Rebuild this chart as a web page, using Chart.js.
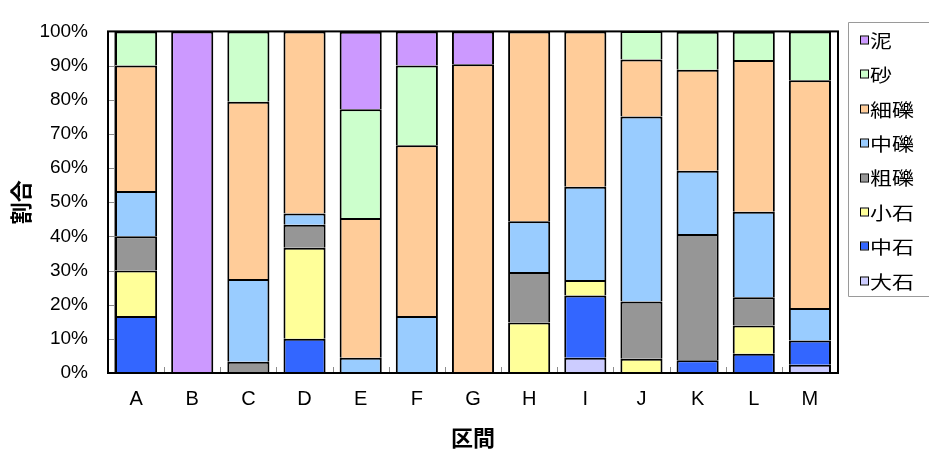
<!DOCTYPE html>
<html>
<head>
<meta charset="utf-8">
<script src="https://cdn.jsdelivr.net/npm/chart.js@4.4.1/dist/chart.umd.min.js"></script>
<style>
  html, body { margin: 0; padding: 0; background: #ffffff; }
  #wrap { width: 929px; height: 449px; }
</style>
</head>
<body>
<div id="wrap"><canvas id="chart" width="929" height="449"></canvas></div>
<script>
// 区間ごとの粒径構成（%）
const sections = ['A', 'B', 'C', 'D', 'E', 'F', 'G', 'H', 'I', 'J', 'K', 'L', 'M'];

const oishi   = [0,    0,   0,    0,    0,    0,    0,    0,    4.5,  0,    0,    0,    2.4];  // 大石
const chuseki = [16.7, 0,   0,    10.0, 0,    0,    0,    0,    18.2, 0,    3.7,  5.6,  7.1];  // 中石
const koishi  = [13.3, 0,   0,    26.7, 0,    0,    0,    14.8, 4.5,  4.2,  0,    8.3,  0];    // 小石
const soreki  = [10.0, 0,   3.3,  6.7,  0,    0,    0,    14.8, 0,    16.7, 37.0, 8.3,  0];    // 粗礫
const chureki = [13.3, 0,   24.2, 3.3,  4.5,  16.7, 0,    14.8, 27.3, 54.2, 18.5, 25.0, 9.5];  // 中礫
const saireki = [36.7, 0,   51.9, 53.3, 40.9, 50.0, 90.4, 55.6, 45.5, 16.7, 29.6, 44.4, 66.7]; // 細礫
const suna    = [10.0, 0,   20.6, 0,    31.8, 23.3, 0,    0,    0,    8.3,  11.1, 8.3,  14.3]; // 砂
const doro    = [0,    100, 0,    0,    22.7, 10.0, 9.6,  0,    0,    0,    0,    0,    0];    // 泥

const seriesNames  = ['大石', '中石', '小石', '粗礫', '中礫', '細礫', '砂', '泥'];
const seriesValues = [oishi, chuseki, koishi, soreki, chureki, saireki, suna, doro];
const seriesColors = ['#CCCCFF', '#3366FF', '#FFFF99', '#969696', '#99CCFF', '#FFCC99', '#CCFFCC', '#CC99FF'];

const yTickValues = [0, 10, 20, 30, 40, 50, 60, 70, 80, 90, 100];

const LATIN = '"Liberation Sans", Arial, sans-serif';
const CJK = '"Noto Sans CJK JP", "Noto Sans", sans-serif';

// 枠線・目盛り線・凡例
const framePlugin = {
  id: 'frame',
  afterDraw(chart) {
    const { ctx, chartArea: a, scales } = chart;
    const x = scales.x, y = scales.y;
    ctx.save();

    // 数値軸の線と内向きの目盛り
    ctx.strokeStyle = '#8c8c8c';
    ctx.lineWidth = 1;
    ctx.beginPath();
    ctx.moveTo(a.left + 6.5, a.top);
    ctx.lineTo(a.left + 6.5, a.bottom);
    yTickValues.forEach(v => {
      const py = Math.round(y.getPixelForValue(v)) + 0.5;
      ctx.moveTo(a.left, py);
      ctx.lineTo(a.left + 6.5, py);
    });
    // 区間の境界の目盛り
    for (let i = 1; i < sections.length; i++) {
      const px = Math.round((x.getPixelForValue(i - 1) + x.getPixelForValue(i)) / 2) + 0.5;
      ctx.moveTo(px, a.bottom - 6);
      ctx.lineTo(px, a.bottom);
    }
    ctx.stroke();

    // プロットエリアの枠
    ctx.strokeStyle = '#000000';
    ctx.lineWidth = 2;
    ctx.strokeRect(a.left, a.top, a.right - a.left, a.bottom - a.top);

    // 凡例
    const lx = 848.5, ly = 22.5, lb = 296.5;
    ctx.strokeStyle = '#9a9a9a';
    ctx.lineWidth = 1;
    ctx.beginPath();
    ctx.moveTo(935, ly);
    ctx.lineTo(lx, ly);
    ctx.lineTo(lx, lb);
    ctx.lineTo(935, lb);
    ctx.stroke();

    ctx.textBaseline = 'middle';
    ctx.textAlign = 'left';
    const n = seriesNames.length;
    for (let k = 0; k < n; k++) {
      const idx = n - 1 - k;
      const cy = 40 + k * 34.4;
      ctx.fillStyle = seriesColors[idx];
      ctx.fillRect(861, Math.round(cy) - 3.5, 7, 7);
      ctx.strokeStyle = '#000000';
      ctx.lineWidth = 1;
      ctx.strokeRect(860.5, Math.round(cy) - 4, 8, 8);
      // 横長の字形で描く
      ctx.save();
      ctx.translate(870, cy + 1);
      ctx.scale(1.22, 1);
      ctx.font = '18px ' + CJK;
      ctx.fillStyle = '#000000';
      ctx.fillText(seriesNames[idx], 0, 0);
      ctx.restore();
    }
    ctx.restore();
  }
};

new Chart(document.getElementById('chart'), {
  type: 'bar',
  data: {
    labels: sections,
    datasets: seriesNames.map((name, i) => ({
      label: name,
      data: seriesValues[i],
      backgroundColor: seriesColors[i],
      borderColor: '#000000',
      borderWidth: 2,
      inflateAmount: 0,
      barPercentage: 0.75,
      categoryPercentage: 1.0
    }))
  },
  options: {
    responsive: false,
    animation: false,
    devicePixelRatio: 1,
    layout: { padding: { left: 0, right: 91, top: 21, bottom: 0 } },
    plugins: {
      legend: { display: false },
      tooltip: { enabled: false }
    },
    scales: {
      x: {
        stacked: true,
        grid: { display: false, drawTicks: false },
        border: { display: false },
        ticks: { color: '#000000', font: { family: LATIN, size: 20 }, padding: 14 },
        title: {
          display: true,
          text: '区間',
          color: '#000000',
          font: { family: CJK, size: 22, weight: 'bold', lineHeight: 1 },
          padding: { top: 0, bottom: 0 }
        },
        afterFit(scale) { scale.height = 76; }
      },
      y: {
        stacked: true,
        min: 0,
        max: 100,
        grid: { display: false, drawTicks: false },
        border: { display: false },
        afterBuildTicks(scale) { scale.ticks = yTickValues.map(v => ({ value: v })); },
        ticks: {
          color: '#000000',
          font: { family: LATIN, size: 19 },
          padding: 20,
          callback: v => v + '%'
        },
        title: {
          display: true,
          text: '割合',
          color: '#000000',
          font: { family: CJK, size: 22, weight: 'bold', lineHeight: 1 },
          padding: { top: 10, bottom: 0 }
        },
        afterFit(scale) { scale.width = 108; }
      }
    }
  },
  plugins: [framePlugin]
});
</script>
</body>
</html>
